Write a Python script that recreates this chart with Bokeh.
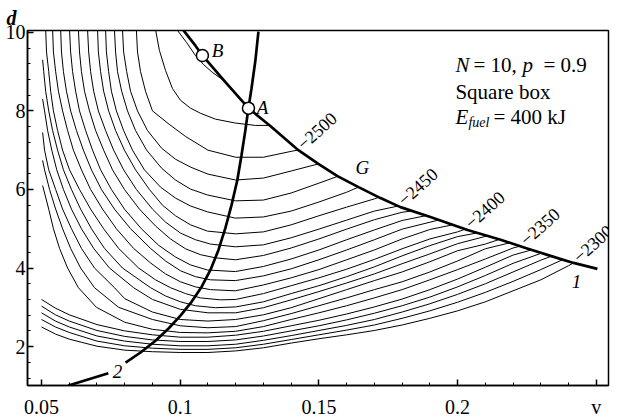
from bokeh.plotting import figure
from bokeh.models import Range1d, FixedTicker, Label, Title
from bokeh.embed import file_html
from bokeh.resources import INLINE

SERIF = "Liberation Serif"

# ---- level curves of the objective, (v, d) points, outermost first ----
c_2300 = [(0.050, 2.50), (0.055, 2.32), (0.060, 2.19), (0.070, 2.01), (0.080, 1.91), (0.090, 1.87),
          (0.100, 1.85), (0.110, 1.85), (0.120, 1.89), (0.130, 1.97), (0.140, 2.09), (0.150, 2.20),
          (0.160, 2.30), (0.170, 2.41), (0.180, 2.55), (0.190, 2.72), (0.200, 2.91), (0.210, 3.14),
          (0.220, 3.42), (0.230, 3.70), (0.240, 4.06), (0.2418, 4.13)]
c_2310 = [(0.050, 2.69), (0.055, 2.50), (0.060, 2.36), (0.070, 2.14), (0.080, 2.02), (0.090, 1.96),
          (0.100, 1.93), (0.110, 1.93), (0.120, 1.97), (0.130, 2.06), (0.140, 2.18), (0.150, 2.30),
          (0.160, 2.42), (0.170, 2.55), (0.180, 2.72), (0.190, 2.91), (0.200, 3.13), (0.210, 3.38),
          (0.220, 3.66), (0.230, 3.96), (0.2378, 4.21)]
c_2320 = [(0.050, 2.86), (0.055, 2.65), (0.060, 2.50), (0.070, 2.27), (0.080, 2.14), (0.090, 2.06),
          (0.100, 2.02), (0.110, 2.02), (0.120, 2.06), (0.130, 2.16), (0.140, 2.28), (0.150, 2.41),
          (0.160, 2.54), (0.170, 2.69), (0.180, 2.88), (0.190, 3.09), (0.200, 3.33), (0.210, 3.60),
          (0.220, 3.90), (0.230, 4.20), (0.2342, 4.31)]
c_2330 = [(0.050, 3.03), (0.055, 2.81), (0.060, 2.65), (0.070, 2.41), (0.080, 2.26), (0.090, 2.17),
          (0.100, 2.13), (0.110, 2.13), (0.120, 2.17), (0.130, 2.27), (0.140, 2.40), (0.150, 2.53),
          (0.160, 2.68), (0.170, 2.85), (0.180, 3.04), (0.190, 3.26), (0.200, 3.52), (0.210, 3.81),
          (0.220, 4.12), (0.2303, 4.38)]
c_2340 = [(0.050, 3.20), (0.055, 2.98), (0.060, 2.81), (0.070, 2.56), (0.080, 2.40), (0.090, 2.30),
          (0.100, 2.24), (0.110, 2.24), (0.120, 2.29), (0.130, 2.39), (0.140, 2.53), (0.150, 2.67),
          (0.160, 2.83), (0.170, 3.01), (0.180, 3.21), (0.190, 3.45), (0.200, 3.72), (0.210, 4.02),
          (0.220, 4.33), (0.2266, 4.46)]
c_2350 = [(0.0504, 6.10), (0.0526, 5.50), (0.0543, 5.00), (0.0565, 4.50), (0.0594, 4.00), (0.0633, 3.50),
          (0.0698, 3.00), (0.080, 2.62), (0.090, 2.44), (0.100, 2.36), (0.110, 2.35), (0.120, 2.39),
          (0.130, 2.51), (0.140, 2.69), (0.150, 2.86), (0.160, 3.04), (0.170, 3.24), (0.180, 3.45),
          (0.190, 3.70), (0.200, 3.96), (0.210, 4.23), (0.220, 4.51), (0.2227, 4.56)]
c_2360 = [(0.0504, 6.74), (0.0511, 6.50), (0.0529, 6.00), (0.0551, 5.50), (0.0576, 5.00), (0.0605, 4.50),
          (0.0641, 4.00), (0.0691, 3.50), (0.0778, 3.00), (0.090, 2.69), (0.100, 2.53), (0.110, 2.48),
          (0.120, 2.51), (0.130, 2.66), (0.140, 2.84), (0.150, 3.04), (0.160, 3.24), (0.170, 3.45),
          (0.180, 3.65), (0.190, 3.90), (0.200, 4.18), (0.210, 4.49), (0.2187, 4.64)]
c_2370 = [(0.0504, 7.45), (0.0511, 7.00), (0.0526, 6.50), (0.0551, 6.00), (0.0576, 5.50), (0.0608, 5.00),
          (0.0644, 4.50), (0.0691, 4.00), (0.0763, 3.50), (0.080, 3.22), (0.090, 2.88), (0.100, 2.69),
          (0.110, 2.65), (0.120, 2.69), (0.130, 2.81), (0.140, 2.99), (0.150, 3.22), (0.160, 3.45),
          (0.170, 3.68), (0.180, 3.90), (0.190, 4.16), (0.200, 4.44), (0.210, 4.61), (0.2147, 4.72)]
c_2380 = [(0.0504, 8.30), (0.0511, 8.00), (0.0522, 7.50), (0.0537, 7.00), (0.0555, 6.50), (0.0579, 6.00),
          (0.0608, 5.50), (0.0644, 5.00), (0.0688, 4.50), (0.0745, 4.00), (0.0832, 3.50), (0.090, 3.20),
          (0.100, 2.95), (0.110, 2.86), (0.120, 2.86), (0.130, 2.99), (0.140, 3.19), (0.150, 3.40),
          (0.160, 3.62), (0.170, 3.85), (0.180, 4.11), (0.190, 4.36), (0.200, 4.62), (0.2108, 4.82)]
c_2390 = [(0.0504, 9.30), (0.0508, 9.00), (0.0515, 8.50), (0.0526, 8.00), (0.0540, 7.50), (0.0558, 7.00),
          (0.0579, 6.50), (0.0608, 6.00), (0.0641, 5.50), (0.0680, 5.00), (0.0727, 4.50), (0.0792, 4.00),
          (0.0893, 3.50), (0.0947, 3.29), (0.1001, 3.14), (0.1055, 3.04), (0.1127, 2.99), (0.120, 3.01),
          (0.130, 3.14), (0.140, 3.35), (0.150, 3.55), (0.160, 3.78), (0.170, 4.03), (0.180, 4.31),
          (0.190, 4.57), (0.200, 4.80), (0.2068, 4.89)]
c_2400 = [(0.0515, 10.07), (0.0518, 9.50), (0.0526, 9.00), (0.0533, 8.50), (0.0543, 8.00), (0.0558, 7.50),
          (0.0576, 7.00), (0.0601, 6.50), (0.0637, 6.00), (0.0677, 5.50), (0.0724, 5.00), (0.0778, 4.50),
          (0.0850, 4.00), (0.0911, 3.70), (0.0965, 3.50), (0.1019, 3.35), (0.1073, 3.24), (0.1145, 3.19),
          (0.120, 3.20), (0.130, 3.35), (0.140, 3.55), (0.150, 3.75), (0.160, 3.97), (0.170, 4.22),
          (0.180, 4.49), (0.190, 4.74), (0.200, 4.92), (0.2028, 4.99)]
c_2410 = [(0.0540, 10.07), (0.0543, 9.50), (0.0551, 9.00), (0.0561, 8.50), (0.0576, 8.00), (0.0594, 7.50),
          (0.0615, 7.00), (0.0644, 6.50), (0.0677, 6.00), (0.0720, 5.50), (0.0770, 5.00), (0.0832, 4.50),
          (0.0893, 4.13), (0.0947, 3.85), (0.1001, 3.65), (0.1055, 3.52), (0.1109, 3.45), (0.1199, 3.42),
          (0.130, 3.57), (0.140, 3.75), (0.150, 3.96), (0.160, 4.21), (0.170, 4.46), (0.180, 4.74),
          (0.190, 4.98), (0.1982, 5.10)]
c_2420 = [(0.0569, 10.07), (0.0572, 9.50), (0.0579, 9.00), (0.0590, 8.50), (0.0605, 8.00), (0.0626, 7.50),
          (0.0651, 7.00), (0.0680, 6.50), (0.0716, 6.00), (0.0763, 5.50), (0.0821, 5.00), (0.0893, 4.50),
          (0.0947, 4.18), (0.1001, 3.93), (0.1055, 3.78), (0.1109, 3.70), (0.1199, 3.68), (0.130, 3.80),
          (0.140, 3.98), (0.150, 4.21), (0.160, 4.46), (0.170, 4.72), (0.180, 4.99), (0.1931, 5.22)]
c_2430 = [(0.0601, 10.07), (0.0605, 9.50), (0.0612, 9.00), (0.0623, 8.50), (0.0637, 8.00), (0.0659, 7.50),
          (0.0684, 7.00), (0.0713, 6.50), (0.0752, 6.00), (0.0799, 5.50), (0.0860, 5.00), (0.0922, 4.58),
          (0.0983, 4.28), (0.1037, 4.08), (0.1098, 3.95), (0.1199, 3.91), (0.130, 4.04), (0.140, 4.23),
          (0.150, 4.46), (0.160, 4.72), (0.170, 4.97), (0.180, 5.21), (0.1884, 5.33)]
c_2440 = [(0.0633, 10.07), (0.0637, 9.50), (0.0644, 9.00), (0.0655, 8.50), (0.0673, 8.00), (0.0695, 7.50),
          (0.0724, 7.00), (0.0756, 6.50), (0.0799, 6.00), (0.0853, 5.50), (0.0911, 5.07), (0.0965, 4.74),
          (0.1019, 4.49), (0.1073, 4.34), (0.1127, 4.26), (0.1199, 4.21), (0.130, 4.32), (0.140, 4.51),
          (0.150, 4.74), (0.160, 4.99), (0.170, 5.23), (0.180, 5.42), (0.1834, 5.45)]
c_2450 = [(0.0666, 10.07), (0.0670, 9.50), (0.0677, 9.00), (0.0688, 8.50), (0.0705, 8.00), (0.0731, 7.50),
          (0.0760, 7.00), (0.0796, 6.50), (0.0842, 6.00), (0.0900, 5.50), (0.0947, 5.17), (0.1001, 4.89),
          (0.1055, 4.72), (0.1109, 4.61), (0.1199, 4.54), (0.130, 4.59), (0.140, 4.77), (0.150, 4.99),
          (0.160, 5.22), (0.170, 5.45), (0.1787, 5.58)]
c_2460 = [(0.0702, 10.07), (0.0705, 9.50), (0.0713, 9.00), (0.0724, 8.50), (0.0742, 8.00), (0.0767, 7.50),
          (0.0799, 7.00), (0.0839, 6.50), (0.0889, 6.00), (0.0936, 5.60), (0.0983, 5.33), (0.1037, 5.10),
          (0.1098, 4.94), (0.120, 4.87), (0.130, 4.92), (0.140, 5.10), (0.150, 5.33), (0.160, 5.55),
          (0.170, 5.76), (0.1715, 5.80)]
c_2470 = [(0.0731, 10.07), (0.0734, 9.50), (0.0742, 9.00), (0.0752, 8.50), (0.0770, 8.00), (0.0796, 7.50),
          (0.0828, 7.00), (0.0871, 6.50), (0.0929, 6.06), (0.0983, 5.78), (0.1037, 5.58), (0.1098, 5.43),
          (0.1199, 5.27), (0.130, 5.30), (0.140, 5.45), (0.150, 5.68), (0.160, 5.93), (0.1643, 6.06)]
c_2480 = [(0.0763, 10.07), (0.0767, 9.50), (0.0774, 9.00), (0.0789, 8.50), (0.0810, 8.00), (0.0839, 7.50),
          (0.0879, 7.00), (0.0933, 6.54), (0.0983, 6.24), (0.1037, 6.01), (0.1098, 5.86), (0.1199, 5.71),
          (0.130, 5.73), (0.140, 5.91), (0.150, 6.16), (0.1570, 6.34)]
c_2490 = [(0.0792, 10.07), (0.0796, 9.50), (0.0807, 9.00), (0.0821, 8.50), (0.0846, 8.00), (0.0882, 7.50),
          (0.0933, 7.05), (0.0983, 6.77), (0.1037, 6.57), (0.110, 6.39), (0.120, 6.24), (0.130, 6.29),
          (0.140, 6.47), (0.1498, 6.65)]
c_2500 = [(0.0842, 10.07), (0.0846, 9.50), (0.0857, 9.00), (0.0875, 8.50), (0.0900, 8.00), (0.0960, 7.66),
          (0.1019, 7.35), (0.110, 7.00), (0.120, 6.82), (0.130, 6.82), (0.140, 6.97), (0.1423, 7.00)]
c_2510 = [(0.0911, 10.07), (0.0925, 9.54), (0.0947, 9.03), (0.0972, 8.57), (0.1001, 8.27), (0.1037, 8.07),
          (0.1073, 7.94), (0.1127, 7.79), (0.1199, 7.69), (0.1271, 7.63), (0.1318, 7.63)]
c_2520 = [(0.0990, 10.05), (0.1023, 9.74), (0.1055, 9.41), (0.1084, 9.18), (0.1116, 8.98), (0.1156, 8.78)]

levels = [-2300, -2310, -2320, -2330, -2340, -2350, -2360, -2370, -2380, -2390, -2400, -2410,
          -2420, -2430, -2440, -2450, -2460, -2470, -2480, -2490, -2500, -2510, -2520]
contours = [c_2300, c_2310, c_2320, c_2330, c_2340, c_2350, c_2360, c_2370, c_2380, c_2390, c_2400,
            c_2410, c_2420, c_2430, c_2440, c_2450, c_2460, c_2470, c_2480, c_2490, c_2500, c_2510, c_2520]
labelled_levels = [-2500, -2450, -2400, -2350, -2300]

# ---- boundary curve G ----
g_v = [0.1012, 0.1055, 0.1080, 0.1163, 0.1246, 0.1326, 0.1426, 0.1498, 0.1567, 0.1643, 0.1722, 0.1794,
       0.1902, 0.2036, 0.2155, 0.2245, 0.2335, 0.2418, 0.2504]
g_d = [10.05, 9.66, 9.41, 8.73, 8.07, 7.61, 7.00, 6.65, 6.34, 6.06, 5.78, 5.55,
       5.30, 4.97, 4.72, 4.51, 4.31, 4.13, 3.98]

# ---- curve 2 (split where its label sits) ----
c2_low_v = [0.0597, 0.0741]
c2_low_d = [1.01, 1.32]
c2_up_v = [0.0803, 0.0857, 0.0911, 0.0958, 0.1001, 0.1041, 0.1077, 0.1109, 0.1138, 0.1163, 0.1185,
           0.1206, 0.1221, 0.1235, 0.1246, 0.1257, 0.1271, 0.1282]
c2_up_d = [1.59, 1.85, 2.15, 2.46, 2.79, 3.14, 3.52, 3.95, 4.46, 5.02, 5.60,
           6.24, 6.87, 7.51, 8.07, 8.57, 9.28, 10.02]

# ---- marked points ----
pt_names = ["A", "B"]
pt_v = [0.1246, 0.1080]
pt_d = [8.07, 9.41]

p = figure(width=621, height=420, title=None,
           x_range=Range1d(0.04495, 0.2544), y_range=Range1d(1.01, 10.046),
           output_backend="svg", toolbar_location=None,
           min_border_left=27, min_border_right=13, min_border_top=30, min_border_bottom=34)
p.grid.visible = False
p.background_fill_color = "white"
p.border_fill_color = "white"
p.outline_line_color = "black"
p.outline_line_width = 1.5

# axes; the last x tick carries the variable name
p.xaxis.ticker = FixedTicker(ticks=[0.05, 0.1, 0.15, 0.2, 0.25],
                             minor_ticks=[0.05, 0.06, 0.07, 0.08, 0.09, 0.10, 0.11, 0.12, 0.13, 0.14, 0.15,
                                          0.16, 0.17, 0.18, 0.19, 0.20, 0.21, 0.22, 0.23, 0.24, 0.25])
p.xaxis.major_label_overrides = {0.05: "0.05", 0.1: "0.1", 0.15: "0.15", 0.2: "0.2", 0.25: "v"}
p.yaxis.ticker = FixedTicker(ticks=[2, 4, 6, 8, 10],
                             minor_ticks=[1.2, 1.6, 2.0, 2.4, 2.8, 3.2, 3.6, 4.0, 4.4, 4.8, 5.2, 5.6,
                                          6.0, 6.4, 6.8, 7.2, 7.6, 8.0, 8.4, 8.8, 9.2, 9.6, 10.0])
for ax in (p.xaxis[0], p.yaxis[0]):
    ax.major_tick_in = 6
    ax.major_tick_out = 0
    ax.minor_tick_in = 3
    ax.minor_tick_out = 0
    ax.axis_line_width = 1.5
    ax.major_tick_line_width = 1.5
    ax.major_label_text_font = SERIF
    ax.major_label_text_font_size = "20px"
    ax.major_label_text_font_style = "normal"
    ax.major_label_text_color = "black"
p.xaxis.major_label_standoff = 10
p.yaxis.major_label_standoff = 2

# name of the vertical variable, above the axis top
p.add_layout(Title(text="d", align="left", offset=-21, standoff=4, text_font=SERIF,
                   text_font_size="20px", text_font_style="bold italic", text_color="black"), "above")

# level curves
for pts in contours:
    p.line([q[0] for q in pts], [q[1] for q in pts], line_color="black", line_width=1.0)

# G and curve 2
p.line(g_v, g_d, line_color="black", line_width=2.7)
p.line(c2_low_v, c2_low_d, line_color="black", line_width=2.7)
p.line(c2_up_v, c2_up_d, line_color="black", line_width=2.7)

p.scatter(pt_v, pt_d, marker="circle", size=12, fill_color="white", line_color="black", line_width=1.5)


def lab(x, y, text, size="19px", style="italic", align="center", baseline="middle", **kw):
    p.add_layout(Label(x=x, y=y, text=text, text_font=SERIF, text_font_size=size,
                       text_font_style=style, text_align=align, text_baseline=baseline,
                       text_color="black", **kw))


# level values written at the ends of the labelled curves, along G
for L in labelled_levels:
    end_v, end_d = contours[levels.index(L)][-1]
    lab(end_v, end_d, "\u2212" + str(abs(L)), size="18px", style="normal", align="left",
        angle=0.73, x_offset=2, y_offset=4)

lab(pt_v[0] + 0.0051, pt_d[0] + 0.02, pt_names[0])
lab(pt_v[1] + 0.0055, pt_d[1] + 0.13, pt_names[1])
lab(0.1657, 6.57, "G")
lab(0.2429, 3.65, "1")
lab(0.0774, 1.37, "2")

# parameter block
tx = 0.1992
lab(tx, 9.16, "N", size="21px", align="left", baseline="alphabetic")
lab(tx, 9.16, "= 10,", size="21px", style="normal", align="left", baseline="alphabetic", x_offset=18)
lab(tx, 9.16, "p", size="21px", align="left", baseline="alphabetic", x_offset=67)
lab(tx, 9.16, "= 0.9", size="21px", style="normal", align="left", baseline="alphabetic", x_offset=88)
lab(tx, 8.47, "Square box", size="21px", style="normal", align="left", baseline="alphabetic")
lab(tx, 7.84, "E", size="21px", align="left", baseline="alphabetic")
lab(tx, 7.71, "fuel", size="14px", align="left", baseline="alphabetic", x_offset=13)
lab(tx, 7.84, "= 400 kJ", size="21px", style="normal", align="left", baseline="alphabetic", x_offset=38)

open("out.html", "w").write(file_html(p, INLINE))
